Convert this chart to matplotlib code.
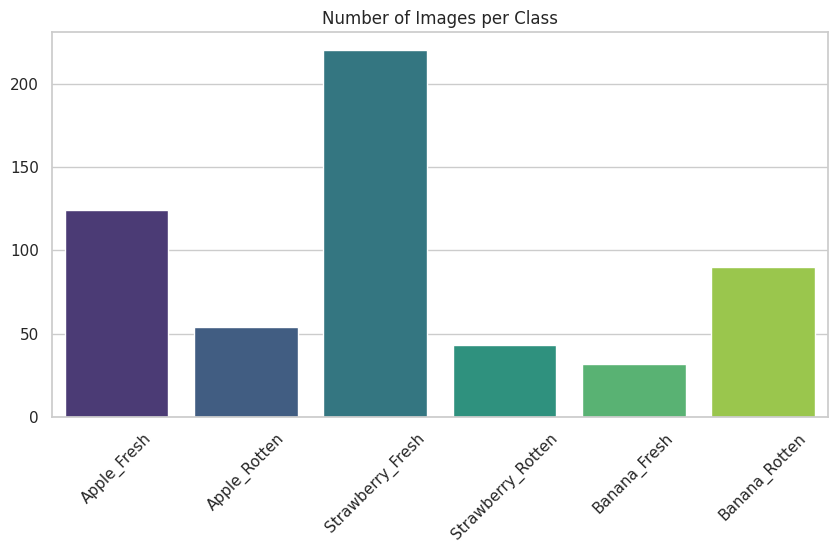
import matplotlib.pyplot as plt
plt.switch_backend('agg')
import seaborn as sns
import pandas as pd

classes = ["Apple_Fresh", "Apple_Rotten", "Strawberry_Fresh",
           "Strawberry_Rotten", "Banana_Fresh", "Banana_Rotten"]
counts = [124, 54, 220, 43, 32, 90]

sns.set_theme(style="whitegrid")

df = pd.DataFrame({"class": classes, "count": counts})

fig, ax = plt.subplots(figsize=(8.37, 5.53), dpi=100)
sns.barplot(data=df, x="class", y="count", hue="class", palette="viridis",
            legend=False, ax=ax)
ax.set_title("Number of Images per Class")
ax.set_xlabel("")
ax.set_ylabel("")
plt.xticks(rotation=45)

fig.subplots_adjust(left=0.062, right=0.989, top=0.942, bottom=0.246)
plt.savefig("out.png")
plt.close()
